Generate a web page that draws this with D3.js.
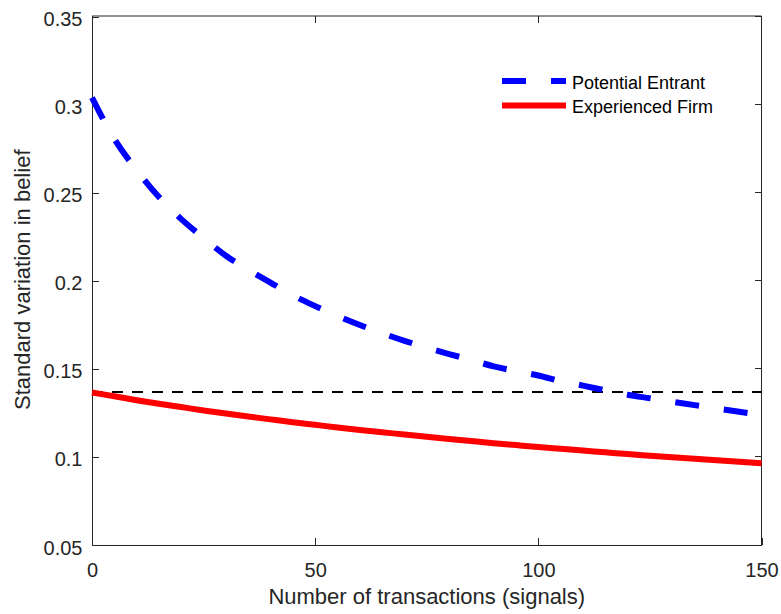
<!DOCTYPE html>
<html>
<head>
<meta charset="utf-8">
<script src="https://cdn.jsdelivr.net/npm/d3@7"></script>
<style>
  html, body { margin: 0; padding: 0; background: #fff; }
  svg { display: block; font-family: "Liberation Sans", Arial, Helvetica, sans-serif; }
</style>
</head>
<body>
<svg id="chart" width="781" height="614"></svg>
<script>
// Number of transactions (signals)
const transactions = [0, 5, 10, 15, 20, 25, 30, 35, 40, 45, 50, 55, 60, 65, 70, 75,
  80, 85, 90, 95, 100, 105, 110, 115, 120, 125, 130, 135, 140, 145, 150];

// Standard variation in belief, potential entrant
const entrant = [0.3040, 0.2805, 0.2628, 0.2475, 0.2350, 0.2243, 0.2142, 0.2062,
  0.1990, 0.1917, 0.1856, 0.1800, 0.1749, 0.1702, 0.1659, 0.1620, 0.1584, 0.1550,
  0.1514, 0.1487, 0.1462, 0.1430, 0.1405, 0.1378, 0.1353, 0.1333, 0.1313, 0.1294,
  0.1275, 0.1256, 0.1238];

// Standard variation in belief, experienced firm
const experienced = [0.1366, 0.1344, 0.1322, 0.1302, 0.1283, 0.1264, 0.1246, 0.1229,
  0.1213, 0.1197, 0.1182, 0.1167, 0.1153, 0.1140, 0.1127, 0.1114, 0.1102, 0.1090,
  0.1078, 0.1067, 0.1056, 0.1046, 0.1036, 0.1026, 0.1016, 0.1007, 0.0998, 0.0989,
  0.0981, 0.0972, 0.0964];

// Reference level drawn as a thin dashed line
const benchmark = 0.1368;

const xTicks = [0, 50, 100, 150];
const yTicks = [0.05, 0.1, 0.15, 0.2, 0.25, 0.3, 0.35];
const xDomain = [0, 150];
const yDomain = [0.05, 0.35];

const seriesNames = ["Potential Entrant", "Experienced Firm"];
const xLabel = "Number of transactions (signals)";
const yLabel = "Standard variation in belief";

(function draw() {
  const svg = d3.select("#chart");
  const axisColor = "#262626";

  const plotLeft = 92, plotRight = 761.5, plotTop = 16.5, plotBottom = 545;
  const x = d3.scaleLinear().domain(xDomain).range([plotLeft, plotRight]);
  const y = d3.scaleLinear().domain(yDomain).range([plotBottom, plotTop]);

  const tickLen = 7;

  // Axes box: top and right edges
  svg.append("line").attr("x1", plotLeft).attr("x2", plotRight).attr("y1", 16).attr("y2", 16)
    .attr("stroke", axisColor).attr("stroke-width", 1);
  svg.append("line").attr("x1", plotRight).attr("x2", plotRight).attr("y1", 16).attr("y2", plotBottom + 0.5)
    .attr("stroke", axisColor).attr("shape-rendering", "crispEdges");

  // Bottom axis with inward ticks
  const xAxis = d3.axisBottom(x).tickValues(xTicks).tickSizeInner(-tickLen).tickSizeOuter(0)
    .tickPadding(0).tickFormat(d3.format("d"));
  const gx = svg.append("g").attr("transform", `translate(0,${plotBottom})`).call(xAxis);
  gx.select(".domain").attr("stroke", axisColor).attr("shape-rendering", "crispEdges");
  gx.selectAll(".tick line").attr("stroke", axisColor).attr("shape-rendering", "crispEdges");
  gx.selectAll(".tick text").attr("fill", axisColor).attr("font-size", 20)
    .attr("font-family", "Liberation Sans, Arial, sans-serif")
    .attr("dy", null).attr("y", 32);

  // Left axis with inward ticks
  const yAxis = d3.axisLeft(y).tickValues(yTicks).tickSizeInner(-tickLen).tickSizeOuter(0)
    .tickPadding(0).tickFormat(d => String(+d.toFixed(2)));
  const gy = svg.append("g").attr("transform", `translate(${plotLeft},0)`).call(yAxis);
  gy.select(".domain").attr("stroke", axisColor).attr("shape-rendering", "crispEdges");
  gy.selectAll(".tick line").attr("stroke", axisColor).attr("shape-rendering", "crispEdges");
  gy.selectAll(".tick text").attr("fill", axisColor).attr("font-size", 20)
    .attr("font-family", "Liberation Sans, Arial, sans-serif")
    .attr("x", -9.5).attr("dy", null).attr("y", 9);

  // Mirrored ticks on top and right edges
  svg.append("g").selectAll("line").data(xTicks).join("line")
    .attr("x1", d => x(d)).attr("x2", d => x(d)).attr("y1", 16).attr("y2", 16 + tickLen)
    .attr("stroke", axisColor).attr("shape-rendering", "crispEdges");
  svg.append("g").selectAll("line").data(yTicks).join("line")
    .attr("x1", plotRight).attr("x2", plotRight - tickLen).attr("y1", d => y(d)).attr("y2", d => y(d))
    .attr("stroke", axisColor).attr("shape-rendering", "crispEdges");

  // Axis labels
  svg.append("text").attr("x", (plotLeft + plotRight) / 2).attr("y", 604)
    .attr("text-anchor", "middle").attr("font-size", 22).attr("fill", axisColor)
    .text(xLabel);
  svg.append("text").attr("transform", `translate(30,${(plotTop + plotBottom) / 2 - 1}) rotate(-90)`)
    .attr("text-anchor", "middle").attr("font-size", 22).attr("fill", axisColor)
    .text(yLabel);

  // Benchmark level
  svg.append("line").attr("x1", x(xDomain[0])).attr("x2", x(xDomain[1]))
    .attr("y1", y(benchmark)).attr("y2", y(benchmark))
    .attr("stroke", "#000").attr("stroke-width", 2).attr("stroke-dasharray", "11,9");

  const line = (vals) => d3.line()
    .x((d, i) => x(transactions[i]))
    .y(d => y(d))
    .curve(d3.curveMonotoneX)(vals);

  // Curves
  svg.append("path").attr("d", line(experienced)).attr("fill", "none")
    .attr("stroke", "#ff0000").attr("stroke-width", 6);
  svg.append("path").attr("d", line(entrant)).attr("fill", "none")
    .attr("stroke", "#0000ff").attr("stroke-width", 6).attr("stroke-dasharray", "24,25");

  // Legend
  const legend = svg.append("g");
  const legendRows = [
    { name: seriesNames[0], color: "#0000ff", dash: "24,25", ly: 81, ty: 88.5 },
    { name: seriesNames[1], color: "#ff0000", dash: null, ly: 105.5, ty: 112.8 }
  ];
  legendRows.forEach(r => {
    legend.append("line").attr("x1", 502).attr("x2", 566).attr("y1", r.ly).attr("y2", r.ly)
      .attr("stroke", r.color).attr("stroke-width", 6).attr("stroke-dasharray", r.dash);
    legend.append("text").attr("x", 572).attr("y", r.ty).attr("font-size", 18)
      .attr("fill", "#000").text(r.name);
  });
})();
</script>
</body>
</html>
